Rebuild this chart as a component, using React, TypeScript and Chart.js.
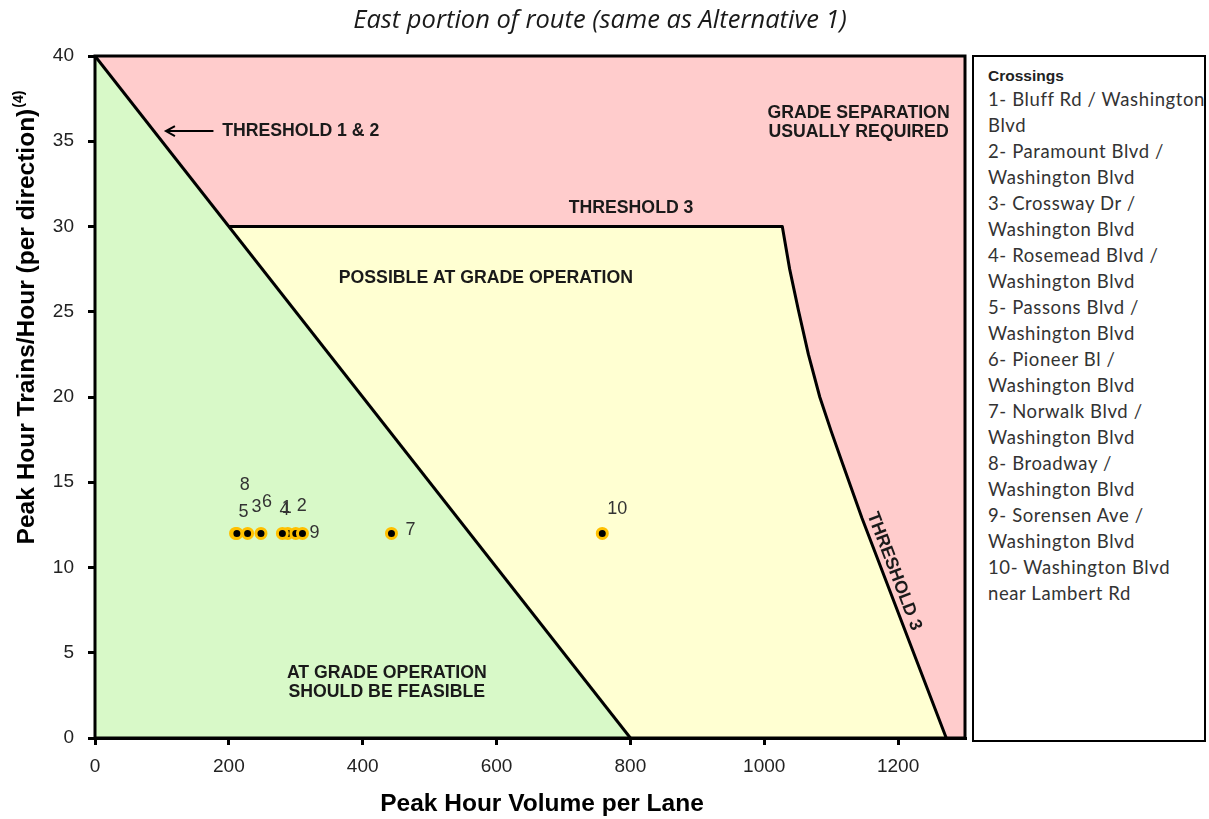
import React, { useEffect, useRef } from "react";
import { Chart, registerables } from "chart.js";

Chart.register(...registerables);

// ---- data ----
const crossingIds = ["1", "2", "3", "4", "5", "6", "7", "8", "9", "10"];
const crossingVolume = [288, 300, 228, 280, 210, 248, 443, 212, 310, 758];
const crossingTrains = [12, 12, 12, 12, 12, 12, 12, 12, 12, 12];

const threshold12Volume = [0, 800];
const threshold12Trains = [40, 0];

const threshold3Volume = [200, 1027, 1038, 1051, 1066, 1083, 1100, 1117, 1146, 1272];
const threshold3Trains = [30, 30, 27.5, 25.1, 22.5, 20, 18, 16.1, 12.9, 0];

const legendTitle = "Crossings";
const legendLines = [
  ["1- Bluff Rd / Washington", "Blvd"],
  ["2- Paramount Blvd /", "Washington Blvd"],
  ["3- Crossway Dr /", "Washington Blvd"],
  ["4- Rosemead Blvd /", "Washington Blvd"],
  ["5- Passons Blvd /", "Washington Blvd"],
  ["6- Pioneer Bl /", "Washington Blvd"],
  ["7- Norwalk Blvd /", "Washington Blvd"],
  ["8- Broadway /", "Washington Blvd"],
  ["9- Sorensen Ave /", "Washington Blvd"],
  ["10- Washington Blvd", "near Lambert Rd"],
];

const titleText = "East portion of route (same as Alternative 1)";
const xTitle = "Peak Hour Volume per Lane";
const yTitle = "Peak Hour Trains/Hour (per direction)";
const yTitleSup = "(4)";

// ---- styling / placement (not data) ----
const labelOffsets: [number, number][] = [
  [-1, -25], [6, -27], [9, -26], [2, -23], [8, -21],
  [6, -31], [19, -3], [8, -48], [12, 0], [15, -24],
];

const regionNotes = [
  { lines: ["GRADE SEPARATION", "USUALLY REQUIRED"], x: 1141, y: 36.1 },
  { lines: ["THRESHOLD 3"], x: 801, y: 31.1 },
  { lines: ["POSSIBLE AT GRADE OPERATION"], x: 584, y: 27.0 },
  { lines: ["AT GRADE OPERATION", "SHOULD BE FEASIBLE"], x: 436, y: 3.25 },
];

const PINK = "#FFCCCC";
const GREEN = "#D8F9C8";
const YELLOW = "#FFFFD2";
const NOTE_FONT = "bold 17.7px 'Liberation Sans', Arial, sans-serif";
const AXIS_TITLE_FONT = "bold 24.5px 'Liberation Sans', Arial, sans-serif";

const annotationPlugin = {
  id: "annotations",
  beforeDraw(chart: any) {
    const { ctx, chartArea: a } = chart;
    ctx.save();
    ctx.fillStyle = "#fff";
    ctx.fillRect(0, 0, chart.width, chart.height);
    ctx.fillStyle = PINK;
    ctx.fillRect(a.left, a.top, a.right - a.left, a.bottom - a.top);
    ctx.restore();
  },
  afterDatasetsDraw(chart: any) {
    const { ctx, chartArea: a } = chart;
    const xs = chart.scales.x;
    const ys = chart.scales.y;
    ctx.save();

    // region notes
    ctx.fillStyle = "#1a1a1a";
    ctx.font = NOTE_FONT;
    ctx.textAlign = "center";
    ctx.textBaseline = "middle";
    regionNotes.forEach((n) => {
      const px = xs.getPixelForValue(n.x);
      const py = ys.getPixelForValue(n.y);
      const lh = 19;
      const start = py - ((n.lines.length - 1) * lh) / 2;
      n.lines.forEach((l, i) => ctx.fillText(l, px, start + i * lh));
    });

    // threshold 1 & 2 arrow + label
    const tipX = xs.getPixelForValue(106);
    const tailX = xs.getPixelForValue(177);
    const ay = ys.getPixelForValue(35.6);
    ctx.strokeStyle = "#000";
    ctx.lineWidth = 2;
    ctx.beginPath();
    ctx.moveTo(tailX, ay);
    ctx.lineTo(tipX, ay);
    ctx.moveTo(tipX + 9, ay - 5);
    ctx.lineTo(tipX, ay);
    ctx.lineTo(tipX + 9, ay + 5);
    ctx.stroke();
    ctx.textAlign = "left";
    ctx.fillText("THRESHOLD 1 & 2", xs.getPixelForValue(190), ay);

    // rotated threshold 3 label, placed alongside the last curve segment
    const n = threshold3Volume.length;
    const p1x = xs.getPixelForValue(threshold3Volume[n - 2]);
    const p1y = ys.getPixelForValue(threshold3Trains[n - 2]);
    const p2x = xs.getPixelForValue(threshold3Volume[n - 1]);
    const p2y = ys.getPixelForValue(threshold3Trains[n - 1]);
    const ang = Math.atan2(p2y - p1y, p2x - p1x);
    const t = 0.26;
    const ox = p1x + (p2x - p1x) * t;
    const oy = p1y + (p2y - p1y) * t;
    const off = 11;
    ctx.save();
    ctx.translate(ox + Math.sin(ang) * off, oy - Math.cos(ang) * off);
    ctx.rotate(ang);
    ctx.textAlign = "center";
    ctx.fillText("THRESHOLD 3", 0, 0);
    ctx.restore();

    // point labels
    ctx.font = "18px 'Liberation Sans', Arial, sans-serif";
    ctx.fillStyle = "#333";
    ctx.textAlign = "center";
    const meta = chart.getDatasetMeta(0);
    meta.data.forEach((pt: any, i: number) => {
      const [dx, dy] = labelOffsets[i];
      ctx.fillText(crossingIds[i], pt.x + dx, pt.y + dy);
    });

    // plot frame
    ctx.strokeStyle = "#000";
    ctx.lineWidth = 3;
    ctx.strokeRect(a.left, a.top, a.right - a.left, a.bottom - a.top);
    ctx.restore();
  },
  afterDraw(chart: any) {
    const { ctx } = chart;
    ctx.save();
    // main title
    ctx.fillStyle = "#1a1a1a";
    ctx.font = "italic 25.5px 'Open Sans', Lato, sans-serif";
    ctx.textAlign = "center";
    ctx.textBaseline = "middle";
    ctx.fillText(titleText, 600, 21);

    // x title
    ctx.fillStyle = "#000";
    ctx.font = AXIS_TITLE_FONT;
    ctx.fillText(xTitle, 542, 804);

    // y title with superscript
    ctx.save();
    ctx.translate(27, 318);
    ctx.rotate(-Math.PI / 2);
    ctx.font = AXIS_TITLE_FONT;
    const w1 = ctx.measureText(yTitle).width;
    ctx.font = "bold 14px 'Liberation Sans', Arial, sans-serif";
    const w2 = ctx.measureText(yTitleSup).width;
    const start = -(w1 + w2) / 2;
    ctx.textAlign = "left";
    ctx.font = AXIS_TITLE_FONT;
    ctx.fillText(yTitle, start, 0);
    ctx.font = "bold 14px 'Liberation Sans', Arial, sans-serif";
    ctx.fillText(yTitleSup, start + w1 + 1, -8);
    ctx.restore();
    ctx.restore();
  },
};

export default function App() {
  const canvasRef = useRef<HTMLCanvasElement | null>(null);

  useEffect(() => {
    if (!canvasRef.current) return;
    const tickFont = { family: "'Liberation Sans', Arial, sans-serif", size: 19 };
    const chart = new Chart(canvasRef.current, {
      type: "line",
      data: {
        datasets: [
          {
            label: "Crossings",
            data: crossingVolume.map((v, i) => ({ x: v, y: crossingTrains[i] })),
            showLine: false,
            pointRadius: 5,
            pointBorderWidth: 3,
            pointBackgroundColor: "#000",
            pointBorderColor: "#FFC000",
            order: 0,
          } as any,
          {
            label: "Threshold 1 & 2",
            data: threshold12Volume.map((v, i) => ({ x: v, y: threshold12Trains[i] })),
            borderColor: "#000",
            borderWidth: 3,
            backgroundColor: GREEN,
            fill: "origin",
            pointRadius: 0,
            tension: 0,
            order: 1,
          },
          {
            label: "Threshold 3",
            data: threshold3Volume.map((v, i) => ({ x: v, y: threshold3Trains[i] })),
            borderColor: "#000",
            borderWidth: 3,
            borderJoinStyle: "round",
            backgroundColor: YELLOW,
            fill: "origin",
            pointRadius: 0,
            tension: 0,
            order: 2,
          },
        ],
      },
      options: {
        responsive: false,
        animation: false,
        layout: { padding: { top: 56, right: 244, left: 0, bottom: 0 } },
        plugins: {
          legend: { display: false },
          tooltip: { enabled: false },
          title: { display: false },
        },
        scales: {
          x: {
            type: "linear",
            min: 0,
            max: 1300,
            ticks: {
              stepSize: 200,
              includeBounds: false,
              color: "#222",
              padding: 10,
              font: tickFont,
              callback: (v: any) => String(v),
            },
            grid: { display: true, drawOnChartArea: false, drawTicks: true, tickLength: 7, lineWidth: 3, color: "#000" },
            border: { display: true, width: 3, color: "#000" },
            afterFit: (s: any) => { s.height = 81; },
          },
          y: {
            type: "linear",
            min: 0,
            max: 40,
            ticks: {
              stepSize: 5,
              color: "#222",
              padding: 14,
              font: tickFont,
              callback: (v: any) => String(v),
            },
            grid: { display: true, drawOnChartArea: false, drawTicks: true, tickLength: 7, lineWidth: 3, color: "#000" },
            border: { display: true, width: 3, color: "#000" },
            afterFit: (s: any) => { s.width = 95; },
          },
        },
      } as any,
      plugins: [annotationPlugin],
    });
    return () => chart.destroy();
  }, []);

  return (
    <div style={{ position: "fixed", left: 0, top: 0, width: 1209, height: 819, background: "#fff" }}>
      <canvas ref={canvasRef} width={1209} height={819} style={{ width: 1209, height: 819, display: "block" }} />
      <div
        style={{
          position: "absolute",
          left: 972,
          top: 55,
          width: 234,
          height: 687,
          border: "2px solid #000",
          boxSizing: "border-box",
          background: "#fff",
          padding: "9px 0 0 14px",
          fontFamily: "Lato, 'Open Sans', sans-serif",
          color: "#333",
        }}
      >
        <div style={{ fontWeight: 700, fontSize: 15.5, lineHeight: "20px", color: "#222", fontFamily: "'Liberation Sans', Arial, sans-serif" }}>
          {legendTitle}
        </div>
        {legendLines.flat().map((l, i) => (
          <div key={i} style={{ fontSize: 18.5, lineHeight: "26px", whiteSpace: "nowrap", letterSpacing: 0.6 }}>{l}</div>
        ))}
      </div>
    </div>
  );
}
